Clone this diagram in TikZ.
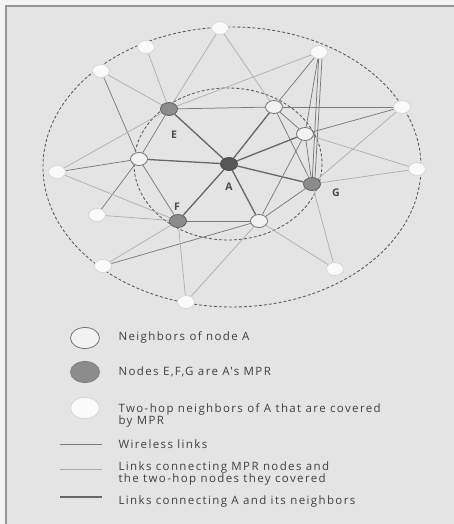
\documentclass[tikz,border=0pt]{standalone}
\usepackage{fontspec}
\setmainfont{Open Sans}
\newfontfamily\legfont[LetterSpace=12]{Open Sans}
\usetikzlibrary{shapes.geometric}
\definecolor{outer}{RGB}{244,244,244}
\definecolor{panel}{RGB}{228,228,228}
\definecolor{rim}{RGB}{150,150,150}
\colorlet{wire}{black!52}
\colorlet{cover}{black!33}
\colorlet{alink}{black!60}
\pgfdeclarelayer{bg}
\pgfdeclarelayer{links}
\pgfsetlayers{bg,links,main}
\tikzset{
  every node/.style={font=\fontsize{10.5}{11}\selectfont},
  oct/.style={ellipse,inner sep=0pt,minimum width=17pt,minimum height=13pt,line width=0.8pt},
  nbr/.style={oct,draw=black!55,fill=black!5},
  mpr/.style={oct,draw=black!62,fill=black!45},
  src/.style={oct,draw=black!72,fill=black!66},
  hop/.style={oct,draw=black!16,fill=black!2},
  big/.style={minimum width=29pt,minimum height=21pt},
  wl/.style={draw=wire,line width=0.75pt},
  cl/.style={draw=cover,line width=0.65pt},
  al/.style={draw=alink,line width=1.3pt},
  rng/.style={draw=black!65,densely dashed,line width=0.85pt},
  lbl/.style={font=\fontsize{10.5}{11}\selectfont\bfseries,text=black!70},
  ltxt/.style={anchor=west,align=left,text=black!75,font=\legfont\fontsize{11.5}{11}\selectfont},
}

\begin{document}
\begin{tikzpicture}[x=1pt,y=-1pt]
  \useasboundingbox (0,0) rectangle (454,524);
  % panel
  \begin{pgfonlayer}{bg}
    \fill[outer] (0,0) rectangle (454,524);
    \fill[panel] (6,6) rectangle (454,524);
    \draw[rim,line width=1.5pt] (6,524) -- (6,6) -- (454,6);
    % ranges of A and of its two-hop neighbors
    \draw[rng] (232,167) ellipse [x radius=189,y radius=140];
    \draw[rng] (228,164) ellipse [x radius=94,y radius=76];
  \end{pgfonlayer}

  % source and MPR nodes
  \node[src] (a) at (229,164) {};
  \node[mpr] (e) at (169,109) {};
  \node[mpr] (f) at (178,221) {};
  \node[mpr] (g) at (312,184) {};
  \node[lbl] at (174,135) {E};
  \node[lbl] at (177,207) {F};
  \node[lbl] at (229,187) {A};
  \node[lbl] at (336,193) {G};

  % one-hop neighbors
  \node[nbr] (n1) at (274,107) {};
  \node[nbr] (n2) at (305,134) {};
  \node[nbr] (n3) at (139,159) {};
  \node[nbr] (n4) at (259,221) {};

  % two-hop neighbors
  \node[hop] (t1) at (220,28) {};
  \node[hop] (t2) at (146,47) {};
  \node[hop] (t3) at (101,71) {};
  \node[hop] (t4) at (319,52) {};
  \node[hop] (t5) at (402,107) {};
  \node[hop] (t6) at (57,172) {};
  \node[hop] (t7) at (417,169) {};
  \node[hop] (t8) at (97,215) {};
  \node[hop] (t9) at (103,266) {};
  \node[hop] (t10) at (335,269) {};
  \node[hop] (t11) at (186,302) {};

  \begin{pgfonlayer}{links}
    % links of A
    \foreach \n in {e,f,g,n1,n2,n3,n4}
      \draw[al] (a) -- (\n);
    % wireless links
    \foreach \p/\q in {e/n1,n1/t5,e/n3,t3/n3,t6/n3,n3/f,n3/t8,f/n4,t9/n4,n1/t4,n2/t4,n2/t5,n1/g,n2/n4,n4/g,n2/g,n1/n2}
      \draw[wl] (\p) -- (\q);
    \draw[wl] (t4) -- (g);
    \draw[wl] ([xshift=3pt]t4.south) -- ([xshift=3pt]g.north);
    % MPR to two-hop links
    \foreach \p/\q in {e/t1,e/t2,e/t3,e/t4,e/t6,f/t6,f/t8,f/t9,f/t11,g/t5,g/t7,g/t10,n4/t10,n4/t11,t1/n1,n2/t7}
      \draw[cl] (\p) -- (\q);
  \end{pgfonlayer}

  % legend
  \node[nbr,big] (kn) at (85,338) {};
  \node[ltxt] (kt1) at (115,337) {Neighbors of node A};
  \node[mpr,big,draw=black!50] (km) at (85,372) {};
  \node[ltxt] (kt2) at (115,372) {Nodes E,F,G are A's MPR};
  \node[hop,big] (kh) at (85,408) {};
  \node[ltxt,anchor=north west] (kt3) at (115,400) {Two-hop neighbors of A that are covered\\by MPR};
  \coordinate (w1) at (60,444);
  \coordinate (w2) at (102,444);
  \draw[wl] (w1) -- (w2);
  \node[ltxt] (kt4) at (115,444) {Wireless links};
  \coordinate (c1) at (60,469);
  \coordinate (c2) at (102,469);
  \draw[cl] (c1) -- (c2);
  \node[ltxt,anchor=north west] (kt5) at (115,458) {Links connecting MPR nodes and\\the two-hop nodes they covered};
  \coordinate (l1) at (60,497);
  \coordinate (l2) at (102,497);
  \draw[al] (l1) -- (l2);
  \node[ltxt] (kt6) at (115,502) {Links connecting A and its neighbors};
\end{tikzpicture}
\end{document}
